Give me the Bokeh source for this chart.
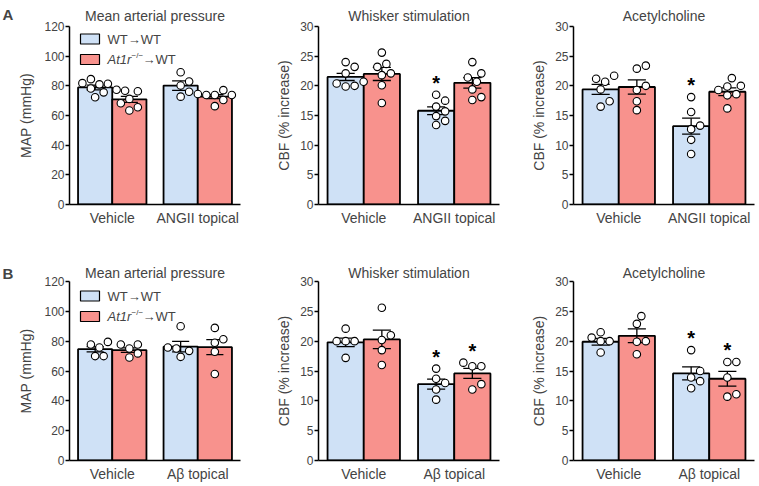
import numpy as np
from bokeh.plotting import figure
from bokeh.layouts import column, row
from bokeh.models import FixedTicker, Label, BoxAnnotation, Range1d
from bokeh.embed import file_html
from bokeh.resources import INLINE
from bokeh.core.properties import value

FONT = "Liberation Sans"
BLUE = "#cfe1f6"
RED = "#f8928d"

# bar order in each panel: WT->WT vehicle, At1r-/- vehicle, WT->WT treatment, At1r-/- treatment
groups_a = ["Vehicle", "ANGII topical"]
groups_b = ["Vehicle", "Aβ topical"]
map_ticks = [0, 20, 40, 60, 80, 100, 120]
cbf_ticks = [0, 5, 10, 15, 20, 25, 30]
series = ["WT→WT", "At1r−/−→WT"]

# Row A - Mean arterial pressure
a_map_mean = [78.9, 70.9, 80.2, 72.7]
a_map_sem = [1.6, 2.0, 3.2, 1.3]
a_map_pts = [[84.5, 81.8, 81.0, 81.4, 72.3, 75.6, 78.2],
             [76.7, 77.4, 76.3, 68.3, 71.2, 65.6, 63.4],
             [89.2, 82.9, 80.2, 76.0, 72.7],
             [74.5, 73.8, 73.8, 73.8, 77.1, 66.3, 70.5]]
a_map_sig = [0, 0, 0, 0]

# Row A - Whisker stimulation
a_ws_mean = [21.5, 22.0, 15.8, 20.5]
a_ws_sem = [0.6, 1.1, 0.65, 0.9]
a_ws_pts = [[24.0, 23.2, 22.1, 20.4, 19.9, 20.0, 20.7],
            [25.6, 23.7, 23.2, 21.8, 22.1, 20.1, 17.1],
            [18.5, 17.5, 16.5, 15.7, 14.9, 14.1, 13.4],
            [24.0, 22.1, 21.4, 20.7, 19.4, 18.1, 17.6]]
a_ws_sig = [0, 0, 1, 0]

# Row A - Acetylcholine
a_ach_mean = [19.4, 19.8, 13.2, 19.0]
a_ach_sem = [0.85, 1.2, 1.35, 0.65]
a_ach_pts = [[21.7, 20.7, 21.2, 19.4, 17.4, 16.5],
             [23.4, 22.9, 20.0, 19.3, 17.4, 15.9],
             [18.1, 15.6, 13.3, 12.7, 10.9, 8.5],
             [21.3, 20.0, 19.9, 19.3, 18.6, 18.4, 16.2]]
a_ach_sig = [0, 0, 1, 0]

# Row B - Mean arterial pressure
b_map_mean = [74.6, 74.0, 76.3, 76.0]
b_map_sem = [1.8, 1.5, 3.5, 5.0]
b_map_pts = [[77.8, 75.8, 79.5, 70.0, 70.0],
             [77.8, 77.8, 75.1, 71.8, 69.1],
             [90.0, 75.1, 75.8, 73.5, 69.5],
             [88.9, 81.3, 78.9, 72.9, 58.0]]
b_map_sig = [0, 0, 0, 0]

# Row B - Whisker stimulation
b_ws_mean = [19.8, 20.3, 12.8, 14.6]
b_ws_sem = [0.7, 1.55, 0.85, 0.85]
b_ws_pts = [[22.1, 20.0, 20.0, 20.0, 17.2],
            [25.6, 21.0, 20.2, 18.5, 16.0],
            [15.4, 13.7, 13.0, 11.9, 10.2],
            [15.8, 15.8, 16.4, 12.8, 11.9]]
b_ws_sig = [0, 0, 1, 1]

# Row B - Acetylcholine
b_ach_mean = [19.9, 20.9, 14.6, 13.7]
b_ach_sem = [0.55, 1.15, 1.1, 1.25]
b_ach_pts = [[21.5, 20.0, 20.0, 20.6, 18.1],
             [24.2, 22.9, 20.0, 19.9, 17.8],
             [18.5, 15.0, 13.9, 13.3, 12.1],
             [16.5, 16.5, 13.9, 11.1, 10.7]]
b_ach_sig = [0, 0, 1, 1]

FRAME_W = 181
X_SPAN = 5.0
XPX = FRAME_W / X_SPAN


def swarm(vals, ypx, d=9.0):
    placed = []
    offs = [0.0] * len(vals)
    cands = [0.0]
    for k in range(1, 5):
        cands += [k * 0.5 * d / XPX, -k * 0.5 * d / XPX]
    order = sorted(range(len(vals)), key=lambda i: vals[i])
    for i in order:
        y = vals[i] * ypx
        chosen = cands[-1]
        for c in cands:
            x = c * XPX
            if all((x - px) ** 2 + (y - py) ** 2 >= d * d for px, py in placed):
                chosen = c
                break
        placed.append((chosen * XPX, y))
        offs[i] = chosen
    return offs


def make_panel(title, ylabel, ticks, groups, means, sems, pts, sig,
               frame_h, b_top, b_left, b_right, b_bottom, label_standoff,
               title_standoff, legend=False):
    ymax = ticks[-1]
    ypx = frame_h / ymax
    width = b_left + FRAME_W + b_right
    height = b_top + frame_h + b_bottom
    p = figure(width=width, height=height, output_backend="svg", toolbar_location=None,
               x_range=Range1d(0, X_SPAN), y_range=Range1d(0, ymax),
               min_border_left=b_left, min_border_right=b_right,
               min_border_top=b_top, min_border_bottom=b_bottom)
    p.outline_line_color = None
    p.xgrid.visible = False
    p.ygrid.visible = False
    p.background_fill_color = "white"
    p.border_fill_color = "white"

    p.title.text = title
    p.title.align = "center"
    p.title.text_font = FONT
    p.title.text_font_size = "14px"
    p.title.text_font_style = "normal"
    p.title.standoff = title_standoff

    centers = [0.25 + g * 2.5 + s + 0.5 for g in range(2) for s in range(2)]
    colors = [BLUE, RED, BLUE, RED]
    p.vbar(x=centers, top=means, bottom=0, width=1.0, fill_color=colors,
           line_color="black", line_width=1.8)

    lo = [m - e for m, e in zip(means, sems)]
    hi = [m + e for m, e in zip(means, sems)]
    p.segment(x0=centers, y0=lo, x1=centers, y1=hi, line_color="black", line_width=1.3)
    cap = 0.25
    for yy in (lo, hi):
        p.segment(x0=[c - cap for c in centers], y0=yy, x1=[c + cap for c in centers], y1=yy,
                  line_color="black", line_width=1.3)

    xs, ys = [], []
    for c, vals in zip(centers, pts):
        offs = swarm(vals, ypx)
        xs += [c + o for o in offs]
        ys += list(vals)
    p.scatter(x=xs, y=ys, marker="circle", size=7.5, fill_color="white",
              line_color="black", line_width=1.1)

    sx, sy = [], []
    for c, vals, s in zip(centers, pts, sig):
        if s:
            sx.append(c)
            sy.append(max(vals) + 12.0 / ypx)
    if sx:
        p.text(x=sx, y=sy, text=["*"] * len(sx), text_font=value(FONT),
               text_font_style="bold", text_font_size="20px", text_align="center",
               text_baseline="alphabetic", text_color="black")

    # axes
    p.yaxis.ticker = FixedTicker(ticks=ticks)
    p.yaxis.axis_label = ylabel
    p.yaxis.axis_label_text_font = FONT
    p.yaxis.axis_label_text_font_size = "14px"
    p.yaxis.axis_label_text_font_style = "normal"
    p.yaxis.axis_label_standoff = label_standoff
    p.yaxis.major_label_text_font = FONT
    p.yaxis.major_label_text_font_size = "12px"
    p.yaxis.major_label_standoff = 1
    p.yaxis.major_tick_out = 4
    p.yaxis.major_tick_in = 0
    p.yaxis.minor_tick_line_color = None
    p.yaxis.axis_line_width = 1.5
    p.yaxis.major_tick_line_width = 1.5

    gcent = [0.25 + g * 2.5 + 1.0 for g in range(2)]
    p.xaxis.ticker = FixedTicker(ticks=gcent)
    p.xaxis.major_label_overrides = {gcent[0]: groups[0], gcent[1]: groups[1]}
    p.xaxis.major_label_text_font = FONT
    p.xaxis.major_label_text_font_size = "14px"
    p.xaxis.major_label_standoff = 5
    p.xaxis.major_tick_out = 0
    p.xaxis.major_tick_in = 0
    p.xaxis.major_tick_line_color = None
    p.xaxis.minor_tick_line_color = None
    p.xaxis.axis_line_width = 1.5

    if legend:
        for k, col in enumerate([BLUE, RED]):
            top = frame_h - (10.5 + 20.5 * k)
            p.add_layout(BoxAnnotation(left=11, right=30, top=top, bottom=top - 10,
                                       left_units="screen", right_units="screen",
                                       top_units="screen", bottom_units="screen",
                                       fill_color=col, fill_alpha=1.0, line_color="black",
                                       line_alpha=1.0, line_width=1.2))
        t1 = frame_h - 15.5
        t2 = frame_h - 36.0
        p.add_layout(Label(x=38, y=t1, x_units="screen", y_units="screen", text=series[0],
                           text_font=FONT, text_font_size="13px", text_baseline="middle"))
        p.add_layout(Label(x=38, y=t2, x_units="screen", y_units="screen", text="At1r",
                           text_font=FONT, text_font_size="13px", text_font_style="italic",
                           text_baseline="middle"))
        p.add_layout(Label(x=62, y=t2 + 4, x_units="screen", y_units="screen", text="−/−",
                           text_font=FONT, text_font_size="8px", text_baseline="middle"))
        p.add_layout(Label(x=73, y=t2, x_units="screen", y_units="screen", text="→WT",
                           text_font=FONT, text_font_size="13px", text_baseline="middle"))
    return p


def letter_fig(letter, height, b_top, standoff):
    p = figure(width=15, height=height, output_backend="svg", toolbar_location=None,
               title=letter, x_range=Range1d(0, 1), y_range=Range1d(0, 1),
               x_axis_type=None, y_axis_type=None,
               min_border_top=b_top, min_border_left=0, min_border_right=0, min_border_bottom=0)
    p.outline_line_color = None
    p.grid.visible = False
    p.title.text_font = FONT
    p.title.text_font_size = "15px"
    p.title.text_font_style = "bold"
    p.title.align = "left"
    p.title.offset = 2
    p.title.standoff = standoff
    return p


HA, HB = 244, 240
fa, fb = 181, 180
la = letter_fig("A", HA, 23, 7)
pa1 = make_panel("Mean arterial pressure", "MAP (mmHg)", map_ticks, groups_a,
                 a_map_mean, a_map_sem, a_map_pts, a_map_sig, fa, 23, 44, 22, HA - 23 - fa, 7, 6, True)
pa2 = make_panel("Whisker stimulation", "CBF (% increase)", cbf_ticks, groups_a,
                 a_ws_mean, a_ws_sem, a_ws_pts, a_ws_sig, fa, 23, 56, 18, HA - 23 - fa, 5, 6)
pa3 = make_panel("Acetylcholine", "CBF (% increase)", cbf_ticks, groups_a,
                 a_ach_mean, a_ach_sem, a_ach_pts, a_ach_sig, fa, 23, 56, 4, HA - 23 - fa, 5, 6)
lb = letter_fig("B", HB, 37, 0)
pb1 = make_panel("Mean arterial pressure", "MAP (mmHg)", map_ticks, groups_b,
                 b_map_mean, b_map_sem, b_map_pts, b_map_sig, fb, 37, 44, 22, HB - 37 - fb, 7, 1, True)
pb2 = make_panel("Whisker stimulation", "CBF (% increase)", cbf_ticks, groups_b,
                 b_ws_mean, b_ws_sem, b_ws_pts, b_ws_sig, fb, 37, 56, 18, HB - 37 - fb, 5, 1)
pb3 = make_panel("Acetylcholine", "CBF (% increase)", cbf_ticks, groups_b,
                 b_ach_mean, b_ach_sem, b_ach_pts, b_ach_sig, fb, 37, 56, 4, HB - 37 - fb, 5, 1)

layout = column(row(la, pa1, pa2, pa3), row(lb, pb1, pb2, pb3))
open("out.html", "w").write(file_html(layout, INLINE))
